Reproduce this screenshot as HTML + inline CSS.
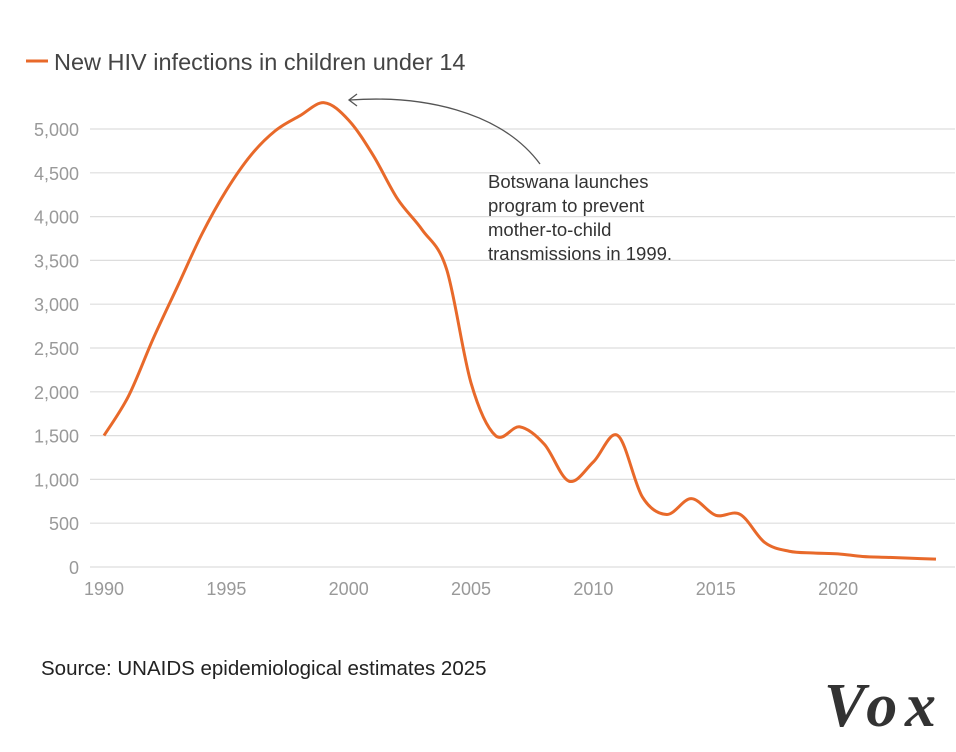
<!DOCTYPE html>
<html><head><meta charset="utf-8"><style>
body{margin:0;background:#fff;width:956px;height:752px;overflow:hidden;font-family:"Liberation Sans",sans-serif}
svg{display:block}
</style></head><body>
<svg id="chart" width="956" height="752">
<g id="grid"></g>
<g id="yt"></g>
<g id="xt"></g>
<line x1="26" y1="61" x2="48" y2="61" stroke="#e8692a" stroke-width="3"/>
<text x="54" y="70" font-size="23.5" fill="#444">New HIV infections in children under 14</text>
<path id="line" fill="none" stroke="#e8692a" stroke-width="3" stroke-linejoin="round"/>
<path d="M540,164 C500,110 420,95 350,100" fill="none" stroke="#555" stroke-width="1.3"/>
<path d="M357,94 L349,100 L357,106" fill="none" stroke="#555" stroke-width="1.3"/>
<text font-size="18.5" fill="#333">
<tspan x="488" y="188">Botswana launches</tspan><tspan x="488" y="212">program to prevent</tspan><tspan x="488" y="236">mother-to-child</tspan><tspan x="488" y="260">transmissions in 1999.</tspan></text>
<text x="41" y="675" font-size="20.5" fill="#222">Source: UNAIDS epidemiological estimates 2025</text>
<text x="824" y="726" font-size="62" font-weight="bold" font-family="Liberation Serif,serif" fill="#333" font-style="italic" textLength="112">Vox</text>
</svg>
<script>
const years=[1990,1991,1992,1993,1994,1995,1996,1997,1998,1999,2000,2001,2002,2003,2004,2005,2006,2007,2008,2009,2010,2011,2012,2013,2014,2015,2016,2017,2018,2019,2020,2021,2022,2023,2024];
const values=[1500,1950,2600,3200,3800,4300,4700,4980,5150,5300,5100,4700,4200,3850,3400,2100,1500,1600,1400,980,1200,1500,800,600,780,590,600,280,180,160,150,120,110,100,90];
const yTicks=[0,500,1000,1500,2000,2500,3000,3500,4000,4500,5000];
const xTicks=[1990,1995,2000,2005,2010,2015,2020];
const NS="http://www.w3.org/2000/svg";
const x=v=>104+(v-1990)*24.47;
const y=v=>567-v*0.0876;
const grid=document.getElementById('grid'),yt=document.getElementById('yt'),xt=document.getElementById('xt');
yTicks.forEach(t=>{
 const l=document.createElementNS(NS,'line');
 l.setAttribute('x1',90);l.setAttribute('x2',955);l.setAttribute('y1',y(t));l.setAttribute('y2',y(t));
 l.setAttribute('stroke','#ddd');l.setAttribute('stroke-width',1.2);
 
 
 grid.appendChild(l);
 const tx=document.createElementNS(NS,'text');
 tx.setAttribute('x',79);tx.setAttribute('y',y(t)+7);tx.setAttribute('text-anchor','end');
 tx.setAttribute('font-size',18);tx.setAttribute('fill','#999');
 tx.textContent=t.toLocaleString('en-US');
 
 
 yt.appendChild(tx);
});
xTicks.forEach(t=>{
 const tx=document.createElementNS(NS,'text');
 tx.setAttribute('x',x(t));tx.setAttribute('y',595);tx.setAttribute('text-anchor','middle');
 tx.setAttribute('font-size',18);tx.setAttribute('fill','#999');
 tx.textContent=t;
 
 
 xt.appendChild(tx);
});
const pts=years.map((yr,i)=>[x(yr),y(values[i])]);
let d='M'+pts[0][0]+','+pts[0][1];
for(let i=0;i<pts.length-1;i++){
 const p0=pts[Math.max(0,i-1)],p1=pts[i],p2=pts[i+1],p3=pts[Math.min(pts.length-1,i+2)];
 const c1=[p1[0]+(p2[0]-p0[0])/6,p1[1]+(p2[1]-p0[1])/6];
 const c2=[p2[0]-(p3[0]-p1[0])/6,p2[1]-(p3[1]-p1[1])/6];
 d+=' C'+c1.join(',')+' '+c2.join(',')+' '+p2.join(',');
}
document.getElementById('line').setAttribute('d',d);
</script>
</body></html>
